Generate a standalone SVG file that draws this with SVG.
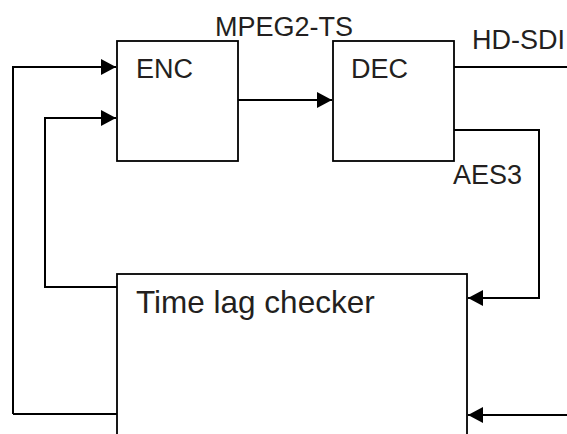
<svg xmlns="http://www.w3.org/2000/svg" width="567" height="434" viewBox="0 0 567 434">
<defs>
<style>
.box{fill:#fff;stroke:#000;stroke-width:1.8}
.wire{fill:none;stroke:#000;stroke-width:2}
.lbl{font-family:"Liberation Sans",Arial,sans-serif;font-size:27px;fill:#231f20}
.big{font-size:31.5px}
</style>
<marker id="ah" markerUnits="userSpaceOnUse" markerWidth="15" markerHeight="16" refX="15" refY="8" orient="auto">
<path d="M0,0 L15,8 L0,16 z" fill="#000"/>
</marker>
</defs>
<rect width="567" height="434" fill="#fff"/>
<g id="connectors">
<path class="wire" d="M13,414 V67 H116" marker-end="url(#ah)"/>
<path class="wire" d="M117,287 H45 V118 H116" marker-end="url(#ah)"/>
<path class="wire" d="M238,100 H332" marker-end="url(#ah)"/>
<path class="wire" d="M454,67 H567"/>
<path class="wire" d="M454,130 H539 V298 H468" marker-end="url(#ah)"/>
<path class="wire" d="M567,415 H468" marker-end="url(#ah)"/>
<path class="wire" d="M13,414 H117"/>
</g>
<g id="enc">
<rect class="box" x="117" y="41" width="121" height="120"/>
<text class="lbl" x="136" y="78">ENC</text>
</g>
<g id="dec">
<rect class="box" x="333" y="41" width="121" height="120"/>
<text class="lbl" x="351" y="78">DEC</text>
</g>
<g id="checker">
<rect class="box" x="117" y="274" width="350" height="170"/>
<text class="lbl big" x="136" y="313">Time lag checker</text>
</g>
<g id="labels">
<text class="lbl" x="215" y="36">MPEG2-TS</text>
<text class="lbl" x="472" y="49">HD-SDI</text>
<text class="lbl" x="453" y="184">AES3</text>
</g>
</svg>
